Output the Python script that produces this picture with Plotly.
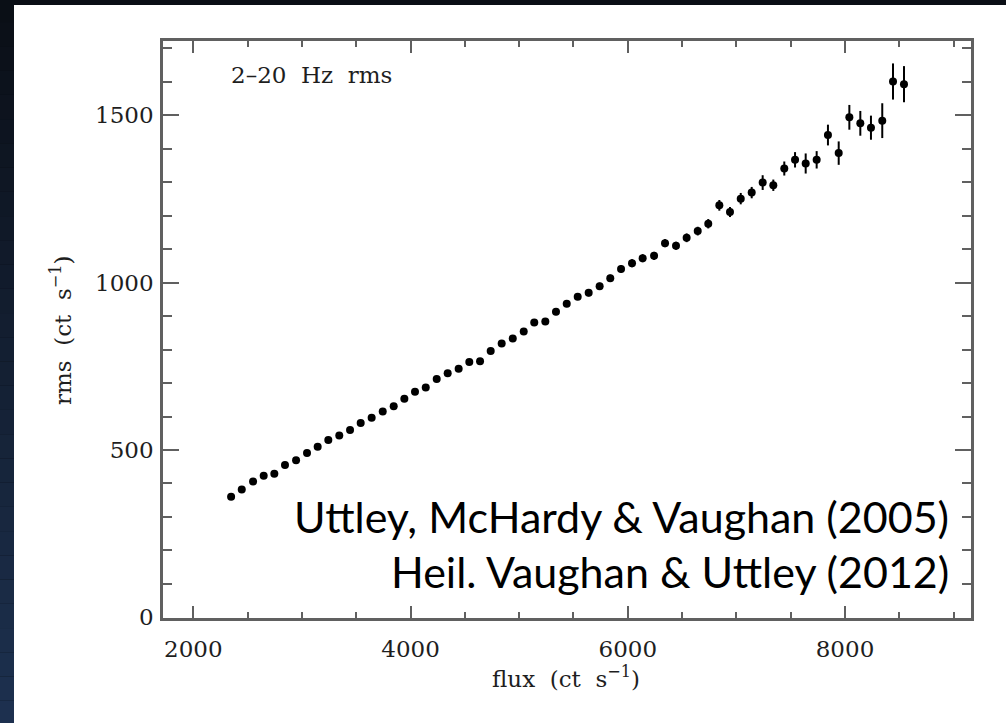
import plotly.graph_objects as go

# ---------------- data ----------------
flux = [2348, 2446, 2550, 2648, 2746, 2844, 2946, 3047, 3145, 3243,
        3344, 3443, 3541, 3642, 3744, 3845, 3943, 4041, 4140,
        4241, 4342, 4443, 4541, 4640, 4738, 4839, 4941, 5042, 5139,
        5241, 5339, 5438, 5539, 5640, 5741, 5839, 5938, 6039, 6137,
        6242, 6343, 6444, 6542, 6644, 6741, 6843, 6941, 7040, 7141,
        7242, 7340, 7441, 7540, 7638, 7739, 7843, 7942, 8040, 8141,
        8239, 8343, 8442, 8543]
rms = [360, 382, 406, 423, 429, 455, 469, 491, 510, 530,
       543, 560, 581, 596, 615, 631, 653, 674, 687,
       712, 729, 743, 763, 765, 796, 818, 833, 854, 881,
       884, 913, 937, 958, 970, 989, 1013, 1041, 1058, 1073,
       1080, 1118, 1110, 1134, 1154, 1176, 1231, 1211, 1251, 1269,
       1299, 1291, 1341, 1367, 1356, 1367, 1441, 1387, 1494, 1476,
       1463, 1484, 1601, 1593]
rms_err = [5, 5, 5, 5, 5, 6, 6, 6, 6, 6,
           6, 7, 7, 7, 7, 7, 7, 8, 8,
           8, 8, 8, 8, 9, 9, 9, 9, 9, 10,
           10, 10, 10, 10, 11, 11, 11, 11, 12, 12,
           12, 12, 12, 13, 13, 14, 16, 15, 17, 17,
           22, 17, 21, 23, 30, 26, 31, 35, 37, 37,
           36, 52, 54, 54]

x_tickvals = [2000, 4000, 6000, 8000]
x_ticktext = ["2000", "4000", "6000", "8000"]
y_tickvals = [0, 500, 1000, 1500]
y_ticktext = ["0", "500", "1000", "1500"]

x_title = "flux\u00a0\u00a0(ct\u00a0\u00a0s<sup>\u22121</sup>)"
y_title = "rms\u00a0\u00a0(ct\u00a0\u00a0s<sup>\u22121</sup>)"
label_text = "2\u201320\u00a0\u00a0Hz\u00a0\u00a0rms"
credit_lines = ["Uttley, McHardy & Vaughan (2005)",
                "Heil. Vaughan & Uttley (2012)"]

# ---------------- layout geometry (pixels) ----------------
W_PX, H_PX = 1006, 723
L, R, T, B = 163, 971, 41, 618
PW, PH = R - L, B - T


def px_x(px):
    return (px - L) / PW


def px_y(py):
    return (B - py) / PH


AX_COL = "#606060"
TXT_COL = "#1e1e1e"
SERIF = "DejaVu Serif"

fig = go.Figure()
fig.add_trace(go.Scatter(
    x=flux, y=rms, mode="markers",
    marker=dict(color="black", size=8),
    error_y=dict(type="data", array=rms_err, visible=True,
                 color="black", thickness=2, width=0),
    showlegend=False, hoverinfo="skip"))

shapes = []
# dark slide background strips (left gradient + top)
top_c = (10, 14, 21)
bot_c = (29, 49, 80)
n = 30
for i in range(n):
    f0 = i / n
    f1 = (i + 1) / n
    c = tuple(int(round(top_c[k] + (bot_c[k] - top_c[k]) * (i + 0.5) / n)) for k in range(3))
    shapes.append(dict(type="rect", xref="paper", yref="paper",
                       x0=px_x(-2), x1=px_x(14),
                       y0=px_y(-2 + f0 * (H_PX + 4)), y1=px_y(-2 + f1 * (H_PX + 4)),
                       fillcolor="rgb(%d,%d,%d)" % c, line=dict(width=0), layer="below"))
# white slide panel
shapes.append(dict(type="rect", xref="paper", yref="paper",
                   x0=px_x(14), x1=px_x(W_PX + 5), y0=px_y(5), y1=px_y(H_PX + 5),
                   fillcolor="white", line=dict(width=0), layer="below"))

annotations = [
    dict(text=label_text, xref="paper", yref="paper", x=px_x(229), y=px_y(75),
         xanchor="left", yanchor="middle", showarrow=False,
         font=dict(family=SERIF, size=23, color=TXT_COL)),
    dict(text=x_title, xref="paper", yref="paper", x=px_x(566), y=px_y(677),
         xanchor="center", yanchor="middle", showarrow=False,
         font=dict(family=SERIF, size=23, color=TXT_COL)),
    dict(text=y_title, xref="paper", yref="paper", x=px_x(61), y=px_y(331),
         xanchor="center", yanchor="middle", showarrow=False, textangle=-90,
         font=dict(family=SERIF, size=23, color=TXT_COL)),
    dict(text=credit_lines[0], xref="paper", yref="paper", x=px_x(951), y=px_y(516),
         xanchor="right", yanchor="middle", showarrow=False,
         font=dict(family="Lato", size=43, color="black")),
    dict(text=credit_lines[1], xref="paper", yref="paper", x=px_x(951), y=px_y(571),
         xanchor="right", yanchor="middle", showarrow=False,
         font=dict(family="Lato", size=43, color="black")),
]

axis_common = dict(ticks="inside", tickwidth=2, tickcolor=AX_COL,
                   showline=True, linecolor=AX_COL, linewidth=2.5,
                   mirror="allticks", showgrid=False, zeroline=False,
                   automargin=False,
                   tickfont=dict(family=SERIF, size=23, color=TXT_COL))

fig.update_layout(
    width=W_PX, height=H_PX, autosize=False,
    margin=dict(l=L, r=W_PX - R, t=T, b=H_PX - B, pad=0),
    paper_bgcolor="rgb(10,14,21)", plot_bgcolor="white",
    shapes=shapes, annotations=annotations,
    xaxis=dict(range=[1721, 9160], tickmode="array", tickvals=x_tickvals,
               ticktext=x_ticktext, ticklen=12, ticklabelstandoff=9,
               minor=dict(ticks="inside", tick0=0, dtick=500, ticklen=6,
                          tickwidth=2, tickcolor=AX_COL, showgrid=False),
               **axis_common),
    yaxis=dict(range=[-2, 1722], tickmode="array", tickvals=y_tickvals,
               ticktext=y_ticktext, ticklen=16, ticklabelstandoff=2,
               minor=dict(ticks="inside", tick0=0, dtick=100, ticklen=9,
                          tickwidth=2, tickcolor=AX_COL, showgrid=False),
               **axis_common),
)

fig.write_html("out.html")
